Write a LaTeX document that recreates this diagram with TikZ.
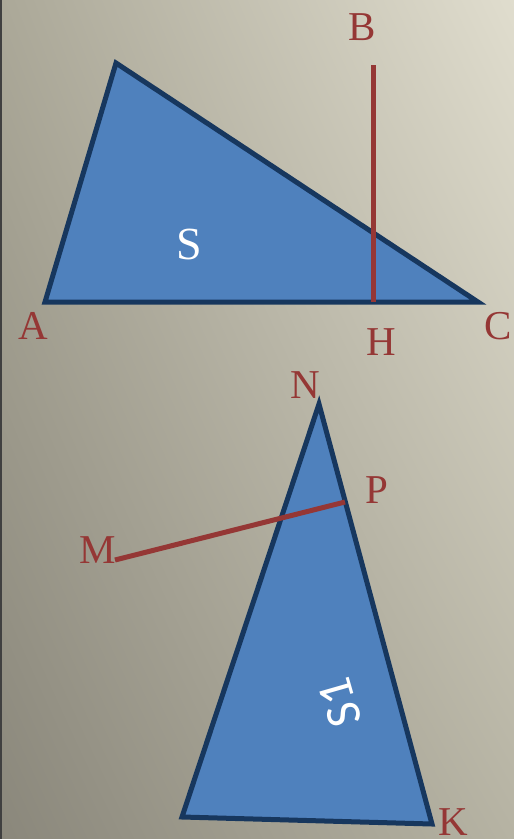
\documentclass[tikz,border=0pt]{standalone}
\usepackage{fontspec}
\usetikzlibrary{shadings}
\setmainfont{Liberation Serif}
\newfontfamily\areafont{Carlito}
\definecolor{triFill}{HTML}{4F81BD}
\definecolor{triEdge}{HTML}{17375E}
\definecolor{segRed}{HTML}{953735}
\definecolor{bgLL}{HTML}{8A877B}
\definecolor{bgUR}{HTML}{E0DDCE}
\definecolor{bgUL}{HTML}{ABA898}
\definecolor{bgLR}{HTML}{B6B3A3}
\begin{document}
\begin{tikzpicture}[x=1pt, y=-1pt,
  vertex/.style={text=segRed, font=\fontsize{41}{41}\selectfont, inner sep=0pt},
  tri/.style={draw=triEdge, fill=triFill, line width=5pt, line join=miter},
  seg/.style={draw=segRed, line width=5pt},
  area/.style={text=white, inner sep=0pt}
]
  % background
  \shade[lower left=bgLL, upper right=bgUR, upper left=bgUL, lower right=bgLR]
    (0,839) rectangle (514,0);
  \fill[black!75] (0,0) rectangle (2,839);
  \useasboundingbox (0,0) rectangle (514,839);

  % first triangle
  \coordinate (a) at (45,302);
  \coordinate (t) at (116,63);
  \coordinate (c) at (478,302);
  \coordinate (b) at (373,65);
  \coordinate (h) at (373,302);
  \draw[tri] (a) -- (t) -- (c) -- cycle;
  \draw[seg] (b) -- (h);
  \node[area, font=\fontsize{46}{46}\selectfont] (s) at (189,244) {S};

  \node[vertex] (labB) at (362,27) {B};
  \node[vertex] (labA) at (33,326) {A};
  \node[vertex] (labH) at (381,342) {H};
  \node[vertex] (labC) at (498,326) {C};

  % second triangle
  \coordinate (n) at (319,404);
  \coordinate (k) at (432,824);
  \coordinate (q) at (182,817);
  \coordinate (p) at (345,502);
  \coordinate (m) at (115,560);
  \draw[tri] (n) -- (k) -- (q) -- cycle;
  \draw[seg] (m) -- (p);
  \node[area, font=\areafont\fontsize{50}{50}\selectfont, rotate=106] (s1) at (340,703) {S1};

  \node[vertex] (labN) at (305,385) {N};
  \node[vertex] (labP) at (377,490) {P};
  \node[vertex] (labM) at (98,550) {M};
  \node[vertex] (labK) at (453,822) {K};
\end{tikzpicture}
\end{document}
